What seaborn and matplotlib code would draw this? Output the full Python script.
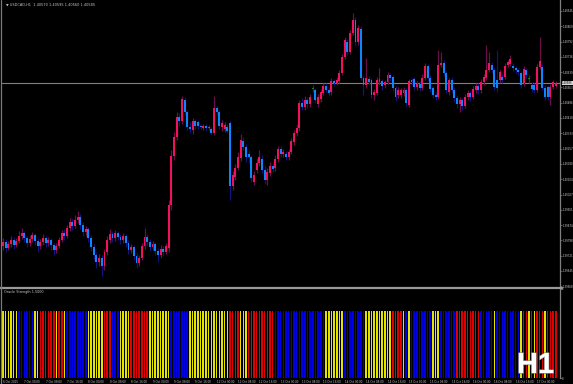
import numpy as np
import pandas as pd
import matplotlib
matplotlib.use("Agg")
import matplotlib.pyplot as plt
import matplotlib.transforms as mtransforms
from matplotlib.lines import Line2D
from matplotlib import patheffects as pe
import seaborn as sns

# ---------------- data ----------------
chart_symbol = "USDCAD,H1"
indicator_name = "Oracle Strength"
indicator_level = 1.5
timeframe_badge = "H1"

open_ = [
    1.39770, 1.39790, 1.39760, 1.39780, 1.39800, 1.39775, 1.39795, 1.39820, 1.39835, 1.39810,
    1.39785, 1.39805, 1.39825, 1.39795, 1.39770, 1.39790, 1.39810, 1.39785, 1.39800, 1.39775,
    1.39750, 1.39770, 1.39800, 1.39835, 1.39820, 1.39860, 1.39890, 1.39870, 1.39900, 1.39915,
    1.39875, 1.39840, 1.39855, 1.39810, 1.39765, 1.39725, 1.39690, 1.39710, 1.39670, 1.39740,
    1.39800, 1.39830, 1.39810, 1.39835, 1.39815, 1.39800, 1.39820, 1.39785, 1.39750, 1.39765,
    1.39720, 1.39685, 1.39710, 1.39770, 1.39815, 1.39790, 1.39765, 1.39780, 1.39745, 1.39725,
    1.39755, 1.39740, 1.39760, 1.39975, 1.40220, 1.40315, 1.40415, 1.40395, 1.40500, 1.40440,
    1.40365, 1.40350, 1.40395, 1.40390, 1.40370, 1.40360, 1.40370, 1.40360, 1.40355, 1.40335,
    1.40460, 1.40440, 1.40365, 1.40355, 1.40365, 1.40385, 1.40070, 1.40115, 1.40160, 1.40210,
    1.40295, 1.40265, 1.40230, 1.40215, 1.40090, 1.40150, 1.40185, 1.40205, 1.40150, 1.40100,
    1.40135, 1.40170, 1.40160, 1.40205, 1.40255, 1.40230, 1.40230, 1.40215, 1.40240, 1.40290,
    1.40335, 1.40360, 1.40485, 1.40465, 1.40500, 1.40480, 1.40555, 1.40550, 1.40480, 1.40505,
    1.40535, 1.40570, 1.40550, 1.40540, 1.40595, 1.40585, 1.40595, 1.40635, 1.40715, 1.40790,
    1.40740, 1.40835, 1.40900, 1.40790, 1.40855, 1.40610, 1.40575, 1.40605, 1.40600, 1.40525,
    1.40535, 1.40590, 1.40595, 1.40575, 1.40590, 1.40625, 1.40615, 1.40560, 1.40525, 1.40525,
    1.40535, 1.40550, 1.40475, 1.40600, 1.40605, 1.40565, 1.40580, 1.40560, 1.40610, 1.40670,
    1.40610, 1.40560, 1.40525, 1.40515, 1.40675, 1.40685, 1.40635, 1.40540, 1.40600, 1.40550,
    1.40510, 1.40480, 1.40500, 1.40470, 1.40515, 1.40535, 1.40515, 1.40550, 1.40570, 1.40550,
    1.40590, 1.40610, 1.40650, 1.40675, 1.40650, 1.40600, 1.40600, 1.40615, 1.40615, 1.40675,
    1.40680, 1.40670, 1.40660, 1.40650, 1.40635, 1.40585, 1.40650, 1.40605, 1.40575, 1.40575,
    1.40550, 1.40665, 1.40665, 1.40560, 1.40565, 1.40515, 1.40565, 1.40570,
]
close_ = [
    1.39790, 1.39760, 1.39780, 1.39800, 1.39775, 1.39795, 1.39820, 1.39835, 1.39810, 1.39785,
    1.39805, 1.39825, 1.39795, 1.39770, 1.39790, 1.39810, 1.39785, 1.39800, 1.39775, 1.39750,
    1.39770, 1.39800, 1.39835, 1.39820, 1.39860, 1.39890, 1.39870, 1.39900, 1.39915, 1.39875,
    1.39840, 1.39855, 1.39810, 1.39765, 1.39725, 1.39690, 1.39710, 1.39670, 1.39740, 1.39800,
    1.39830, 1.39810, 1.39835, 1.39815, 1.39800, 1.39820, 1.39785, 1.39750, 1.39765, 1.39720,
    1.39685, 1.39710, 1.39770, 1.39815, 1.39790, 1.39765, 1.39780, 1.39745, 1.39725, 1.39755,
    1.39740, 1.39770, 1.39975, 1.40220, 1.40315, 1.40415, 1.40395, 1.40505, 1.40440, 1.40365,
    1.40355, 1.40395, 1.40370, 1.40370, 1.40365, 1.40370, 1.40360, 1.40365, 1.40335, 1.40460,
    1.40440, 1.40370, 1.40385, 1.40375, 1.40345, 1.40070, 1.40125, 1.40160, 1.40215, 1.40300,
    1.40265, 1.40215, 1.40215, 1.40110, 1.40125, 1.40185, 1.40215, 1.40150, 1.40100, 1.40140,
    1.40170, 1.40155, 1.40205, 1.40255, 1.40230, 1.40240, 1.40215, 1.40240, 1.40295, 1.40335,
    1.40360, 1.40485, 1.40465, 1.40500, 1.40480, 1.40515, 1.40555, 1.40500, 1.40515, 1.40540,
    1.40570, 1.40550, 1.40535, 1.40595, 1.40585, 1.40600, 1.40635, 1.40715, 1.40800, 1.40740,
    1.40835, 1.40900, 1.40790, 1.40860, 1.40610, 1.40575, 1.40610, 1.40590, 1.40525, 1.40540,
    1.40600, 1.40605, 1.40570, 1.40590, 1.40625, 1.40610, 1.40560, 1.40515, 1.40550, 1.40550,
    1.40550, 1.40485, 1.40595, 1.40590, 1.40565, 1.40580, 1.40560, 1.40610, 1.40670, 1.40610,
    1.40555, 1.40525, 1.40515, 1.40675, 1.40685, 1.40635, 1.40550, 1.40600, 1.40550, 1.40510,
    1.40480, 1.40500, 1.40470, 1.40515, 1.40535, 1.40515, 1.40555, 1.40570, 1.40550, 1.40590,
    1.40615, 1.40650, 1.40685, 1.40650, 1.40565, 1.40560, 1.40640, 1.40600, 1.40670, 1.40690,
    1.40705, 1.40660, 1.40650, 1.40640, 1.40575, 1.40655, 1.40625, 1.40605, 1.40555, 1.40550,
    1.40665, 1.40695, 1.40560, 1.40515, 1.40515, 1.40565, 1.40590, 1.40585,
]
high_ = [
    1.39810, 1.39805, 1.39795, 1.39820, 1.39815, 1.39810, 1.39845, 1.39860, 1.39845, 1.39820,
    1.39825, 1.39840, 1.39835, 1.39810, 1.39805, 1.39830, 1.39820, 1.39815, 1.39810, 1.39785,
    1.39785, 1.39815, 1.39850, 1.39855, 1.39875, 1.39910, 1.39905, 1.39925, 1.39945, 1.39930,
    1.39890, 1.39870, 1.39865, 1.39825, 1.39780, 1.39740, 1.39730, 1.39725, 1.39755, 1.39820,
    1.39855, 1.39845, 1.39850, 1.39845, 1.39830, 1.39835, 1.39830, 1.39800, 1.39780, 1.39775,
    1.39735, 1.39725, 1.39785, 1.39860, 1.39830, 1.39805, 1.39795, 1.39790, 1.39760, 1.39775,
    1.39770, 1.39785, 1.40000, 1.40250, 1.40340, 1.40440, 1.40435, 1.40520, 1.40515, 1.40450,
    1.40390, 1.40410, 1.40405, 1.40400, 1.40380, 1.40380, 1.40380, 1.40375, 1.40365, 1.40520,
    1.40470, 1.40450, 1.40400, 1.40390, 1.40380, 1.40395, 1.40145, 1.40180, 1.40240, 1.40330,
    1.40315, 1.40280, 1.40250, 1.40225, 1.40145, 1.40210, 1.40250, 1.40225, 1.40170, 1.40160,
    1.40190, 1.40185, 1.40225, 1.40270, 1.40270, 1.40255, 1.40245, 1.40255, 1.40310, 1.40350,
    1.40380, 1.40500, 1.40510, 1.40520, 1.40515, 1.40530, 1.40575, 1.40560, 1.40530, 1.40555,
    1.40585, 1.40585, 1.40565, 1.40610, 1.40605, 1.40615, 1.40650, 1.40730, 1.40815, 1.40805,
    1.40850, 1.40935, 1.40915, 1.40875, 1.40870, 1.40620, 1.40710, 1.40620, 1.40610, 1.40555,
    1.40615, 1.40660, 1.40605, 1.40600, 1.40640, 1.40635, 1.40625, 1.40570, 1.40565, 1.40560,
    1.40565, 1.40560, 1.40605, 1.40610, 1.40615, 1.40595, 1.40595, 1.40630, 1.40685, 1.40680,
    1.40625, 1.40570, 1.40540, 1.40750, 1.40740, 1.40700, 1.40645, 1.40610, 1.40615, 1.40565,
    1.40525, 1.40515, 1.40510, 1.40530, 1.40550, 1.40545, 1.40570, 1.40585, 1.40585, 1.40605,
    1.40630, 1.40775, 1.40740, 1.40690, 1.40660, 1.40750, 1.40650, 1.40630, 1.40685, 1.40700,
    1.40725, 1.40685, 1.40670, 1.40660, 1.40645, 1.40670, 1.40660, 1.40625, 1.40590, 1.40585,
    1.40680, 1.40815, 1.40680, 1.40575, 1.40575, 1.40580, 1.40600, 1.40595,
]
low_ = [
    1.39750, 1.39740, 1.39750, 1.39765, 1.39755, 1.39765, 1.39785, 1.39805, 1.39790, 1.39765,
    1.39770, 1.39790, 1.39775, 1.39740, 1.39755, 1.39775, 1.39765, 1.39770, 1.39750, 1.39725,
    1.39735, 1.39760, 1.39790, 1.39800, 1.39810, 1.39845, 1.39850, 1.39860, 1.39885, 1.39855,
    1.39820, 1.39820, 1.39790, 1.39745, 1.39700, 1.39660, 1.39670, 1.39620, 1.39650, 1.39725,
    1.39785, 1.39790, 1.39795, 1.39800, 1.39780, 1.39785, 1.39765, 1.39730, 1.39735, 1.39700,
    1.39660, 1.39670, 1.39700, 1.39755, 1.39770, 1.39745, 1.39750, 1.39725, 1.39690, 1.39710,
    1.39720, 1.39730, 1.39740, 1.39950, 1.40200, 1.40300, 1.40370, 1.40380, 1.40425, 1.40350,
    1.40335, 1.40330, 1.40355, 1.40355, 1.40355, 1.40350, 1.40345, 1.40350, 1.40325, 1.40325,
    1.40425, 1.40355, 1.40345, 1.40340, 1.40335, 1.40000, 1.40050, 1.40100, 1.40150, 1.40195,
    1.40250, 1.40190, 1.40185, 1.40090, 1.40075, 1.40135, 1.40170, 1.40135, 1.40080, 1.40075,
    1.40120, 1.40140, 1.40145, 1.40190, 1.40215, 1.40215, 1.40200, 1.40200, 1.40230, 1.40275,
    1.40320, 1.40345, 1.40450, 1.40450, 1.40460, 1.40465, 1.40540, 1.40485, 1.40465, 1.40490,
    1.40525, 1.40540, 1.40520, 1.40525, 1.40570, 1.40575, 1.40585, 1.40625, 1.40705, 1.40725,
    1.40730, 1.40825, 1.40775, 1.40775, 1.40600, 1.40525, 1.40560, 1.40575, 1.40510, 1.40500,
    1.40525, 1.40575, 1.40550, 1.40560, 1.40580, 1.40595, 1.40545, 1.40495, 1.40510, 1.40510,
    1.40520, 1.40470, 1.40465, 1.40575, 1.40550, 1.40550, 1.40545, 1.40550, 1.40600, 1.40595,
    1.40540, 1.40510, 1.40500, 1.40505, 1.40665, 1.40620, 1.40535, 1.40525, 1.40535, 1.40490,
    1.40460, 1.40440, 1.40450, 1.40460, 1.40500, 1.40495, 1.40505, 1.40535, 1.40530, 1.40535,
    1.40575, 1.40600, 1.40640, 1.40635, 1.40550, 1.40540, 1.40585, 1.40585, 1.40605, 1.40665,
    1.40670, 1.40645, 1.40635, 1.40625, 1.40560, 1.40570, 1.40610, 1.40585, 1.40540, 1.40535,
    1.40540, 1.40655, 1.40550, 1.40500, 1.40500, 1.40475, 1.40555, 1.40560,
]

# indicator state per bar: Y = neutral (yellow), B = bearish (blue), R = bullish (red)
strength_codes = (
    "YYYYYY" "BBBBBB" "YY" "RRRRRR" "YRRY" "BBBBBBBB" "YYYYYY" "RRR" "BBB" "YYYY"
    "RRRRRRR" "YYYYYYYY" "BBBBBBB" "YYYYYYYYYYYYYYY" "RRRR" "YYY" "RRRRRRRRRR"
    "BBBBBBBBBBBBBBBBBBB" "YYYYYYY" "BBBBBBBB" "YYYYYYYYYY" "RRRR" "YBYB" "BBBBBBB"
    "YYY" "BBBBBB" "RRRRRRRRR" "BBBBB" "Y" "BBBBBBBBB" "Y" "RR" "YRYR" "RR" "Y" "RRRR"
)

time_tick_bars = [0, 8, 16, 24, 32, 40, 48, 56, 64, 72, 80, 88, 96, 104, 112,
                  120, 128, 136, 144, 152, 160, 168, 176, 184, 192, 200]
time_tick_labels = [
    "6 Oct 2015", "7 Oct 00:00", "7 Oct 08:00", "7 Oct 16:00", "8 Oct 00:00",
    "8 Oct 08:00", "8 Oct 16:00", "9 Oct 00:00", "9 Oct 08:00", "9 Oct 16:00",
    "12 Oct 00:00", "12 Oct 08:00", "12 Oct 16:00", "13 Oct 00:00", "13 Oct 08:00",
    "13 Oct 16:00", "14 Oct 00:00", "14 Oct 08:00", "14 Oct 16:00", "15 Oct 00:00",
    "15 Oct 08:00", "15 Oct 16:00", "16 Oct 00:00", "16 Oct 08:00", "16 Oct 16:00",
    "17 Oct 00:00",
]
price_ticks = [1.40945, 1.40869, 1.40792, 1.40716, 1.40639, 1.40563, 1.40486,
               1.40410, 1.40333, 1.40257, 1.40180, 1.40104, 1.40027, 1.39951,
               1.39874, 1.39798, 1.39721, 1.39645, 1.39568]

# ---------------- style ----------------
W, H = 573, 384
sns.set_theme(style="dark", rc={
    "figure.facecolor": "black", "axes.facecolor": "black",
    "axes.grid": False, "savefig.facecolor": "black",
})
plt.rcParams["font.family"] = ["DejaVu Sans"]

TXT = "#c8c8c8"
GRID = "#808080"
BULL, BEAR, DOJI = "#f2115f", "#0b86ff", "#0a8a0a"
BULL_WICK, BEAR_WICK = "#6a0f47", "#13137a"
palette = {"Y": "#e3e300", "B": "#0000e6", "R": "#e00000"}
AXIS_FS = 1.9

fig = plt.figure(figsize=(W / 100, H / 100), dpi=100)

def fx(px):
    return px / W

def fy(py):
    return 1 - py / H

x_left, x_right = 2, 560
xmin, xmax = -0.375, 208.6

# main price panel: y 0..287 px
ax = fig.add_axes([fx(x_left), fy(287), fx(x_right - x_left), 287 / H])
# indicator panel: y 289..378 px
ax2 = fig.add_axes([fx(x_left), fy(378), fx(x_right - x_left), 89 / H])

o = np.array(open_); c = np.array(close_)
hi = np.array(high_); lo = np.array(low_)
n = len(o)
xs = np.arange(n)
up = c > o
down = c < o
flat = c == o

wick_cols = np.where(up | flat, BULL_WICK, BEAR_WICK)
ax.vlines(xs, lo, hi, colors=wick_cols, linewidth=0.9, zorder=2)
body_cols = np.where(up, BULL, np.where(down, BEAR, DOJI))
heights = np.abs(c - o)
heights = np.where(heights == 0, 0.00003, heights)
ax.bar(xs, heights, bottom=np.minimum(o, c), width=0.72, color=body_cols,
       linewidth=0, zorder=3)

last_close = close_[-1]
ax.axhline(last_close, color=GRID, linewidth=0.8, zorder=1)

ax.set_xlim(xmin, xmax)
ax.set_ylim(1.41 - 287 * 0.00005, 1.41)
ax.set_xticks([])
ax.yaxis.tick_right()
ax.set_yticks(price_ticks)
ax.set_yticklabels([f"{t:.5f}" for t in price_ticks])
ax.tick_params(axis="y", colors=GRID, labelcolor=TXT, labelsize=AXIS_FS,
               length=1.2, width=0.5, pad=0.4)
for s in ["left", "top", "bottom"]:
    ax.spines[s].set_visible(False)
ax.spines["right"].set_color(GRID)
ax.spines["right"].set_linewidth(0.9)

ax.text(1.0035, last_close, f"{last_close:.5f}",
        transform=mtransforms.blended_transform_factory(ax.transAxes, ax.transData),
        fontsize=AXIS_FS, color="black", va="center", ha="left",
        bbox=dict(facecolor="#d8d8d8", edgecolor="none", pad=0.3), zorder=10,
        clip_on=False)

ax.text(0.008, 0.985,
        f"\u25bc {chart_symbol}  {open_[-1]:.5f} {high_[-1]:.5f} {low_[-1]:.5f} {close_[-1]:.5f}",
        transform=ax.transAxes, fontsize=2.5, color=TXT, va="center", ha="left")

# indicator panel with seaborn
df_ind = pd.DataFrame({
    "bar": xs,
    "strength": [indicator_level] * n,
    "state": list(strength_codes),
})
sns.barplot(data=df_ind, x="bar", y="strength", hue="state", palette=palette,
            dodge=False, width=0.58, saturation=1, errorbar=None, legend=False,
            linewidth=0, ax=ax2)
ax2.set_xlim(xmin, xmax)
ax2.set_ylim(0, 2)
ax2.set_xlabel("")
ax2.set_ylabel("")
ax2.yaxis.tick_right()
ax2.set_yticks([0, 2])
ax2.set_yticklabels(["0", "2"])
ax2.tick_params(axis="y", colors=GRID, labelcolor=TXT, labelsize=AXIS_FS,
                length=1.2, width=0.5, pad=0.4)
ax2.set_xticks(time_tick_bars)
ax2.set_xticklabels(time_tick_labels)
ax2.tick_params(axis="x", colors=GRID, labelcolor=TXT, labelsize=2.0,
                length=1.0, width=0.5, pad=0.5)
for lab in ax2.get_xticklabels():
    lab.set_ha("left")
for s in ["left", "top", "bottom"]:
    ax2.spines[s].set_visible(False)
ax2.spines["right"].set_color(GRID)
ax2.spines["right"].set_linewidth(0.9)

ax2.text(0.003, (378 - 292) / 89, f"{indicator_name} {indicator_level:.4f}",
         transform=ax2.transAxes, fontsize=2.4, color=TXT, va="center", ha="left")

# panel separator and left border
fig.add_artist(Line2D([0, fx(562)], [fy(287.5), fy(287.5)], color="#9a9a9a",
                      linewidth=1.6, transform=fig.transFigure))
fig.add_artist(Line2D([fx(0.6), fx(0.6)], [0, 1], color="#7a7a7a",
                      linewidth=0.9, transform=fig.transFigure))

# timeframe badge
fig.text(fx(517), fy(373), timeframe_badge, fontsize=20.9, fontweight="bold",
         family=["Liberation Sans", "DejaVu Sans"], color="white", ha="left",
         va="baseline",
         path_effects=[pe.withStroke(linewidth=1.0, foreground="#8a8a8a")])

fig.savefig("out.png", dpi=100, facecolor="black")
